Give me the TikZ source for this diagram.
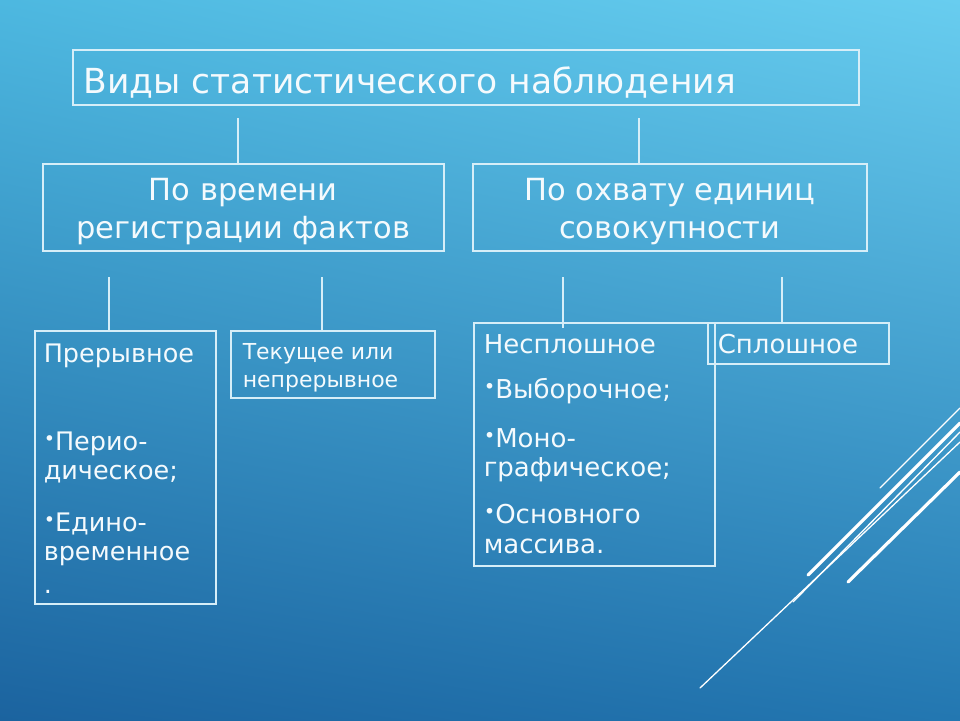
\documentclass[tikz,border=0pt]{standalone}
\usepackage{fontspec}
\setmainfont{DejaVu Sans}
\usetikzlibrary{shadings}
\definecolor{bgtl}{HTML}{4DB8E0}
\definecolor{bgtr}{HTML}{68CDEF}
\definecolor{bgbl}{HTML}{1B639F}
\definecolor{bgbr}{HTML}{2377B1}
\definecolor{edge}{HTML}{D6EEF8}
\definecolor{ink}{HTML}{F4FAFD}
% width, height, first baseline, left pad, text
\newcommand{\cellbox}[5]{\parbox[t][#2][t]{#1}{\leftskip=#4\rule{0pt}{#3}#5\par}}
\newcommand{\bul}{\raisebox{.22em}{\scalebox{.75}{•}}}
\begin{document}
\begin{tikzpicture}[x=1pt,y=-1pt,
    box/.style={draw=edge,line width=1.5pt,inner sep=0pt,anchor=north west,text=ink},
    link/.style={draw=edge,line width=1.5pt},
    deco/.style={draw=white,line cap=round}]
\useasboundingbox (0,0) rectangle (960,720);
\shade[upper left=bgtl,upper right=bgtr,lower left=bgbl,lower right=bgbr] (0,0) rectangle (960,720);

\node[box] (kind) at (72,49) {\fontsize{34.5}{40}\selectfont\cellbox{786pt}{55pt}{44pt}{11pt}{Виды статистического наблюдения}};
\node[box] (time) at (42,163) {\fontsize{30.5}{38}\selectfont\cellbox{401pt}{87pt}{37pt}{0pt}{\centering По времени\\регистрации фактов}};
\node[box] (cover) at (472,163) {\fontsize{30.5}{38}\selectfont\cellbox{394pt}{87pt}{37pt}{0pt}{\centering По охвату единиц\\совокупности}};
\node[box] (break) at (34,330) {\fontsize{25.5}{29}\selectfont\cellbox{181pt}{273pt}{32pt}{9pt}{Прерывное\\[59pt]\bul Перио-\\дическое;\\[23pt]\bul Едино-\\временное\\[4pt].}};
\node[box] (cur) at (230,330) {\fontsize{22}{28}\selectfont\cellbox{204pt}{67pt}{29pt}{12pt}{Текущее или\\непрерывное}};
\node[box] (part) at (473,322) {\fontsize{26}{29}\selectfont\cellbox{241pt}{243pt}{31pt}{10pt}{Несплошное\\[16pt]\bul Выборочное;\\[20pt]\bul Моно-\\графическое;\\[18pt]\bul Основного\\[1pt]массива.}};
\node[box] (full) at (707,322) {\fontsize{26}{29}\selectfont\cellbox{181pt}{41pt}{31pt}{10pt}{Сплошное}};

\coordinate (k1) at (238,118);
\coordinate (k2) at (639,118);
\draw[link] (k1) -- (k1 |- time.north);
\draw[link] (k2) -- (k2 |- cover.north);
\coordinate (t1) at (109,277);
\coordinate (t2) at (322,277);
\draw[link] (t1) -- (t1 |- break.north);
\draw[link] (t2) -- (t2 |- cur.north);
\coordinate (c1) at (563,277);
\coordinate (c2) at (782,277);
\draw[link] (c1) -- ([yshift=-6pt]c1 |- part.north);
\draw[link] (c2) -- (c2 |- full.north);

% corner strokes
\draw[deco,line width=1.3pt] (880,488) -- (960,408);
\draw[deco,line width=3.2pt] (808,575) -- (960,423);
\draw[deco,line width=1.3pt] (793,602) -- (960,432);
\draw[deco,line width=1.3pt] (700,688) -- (960,442);
\draw[deco,line width=3.2pt] (848,582) -- (960,472);
\end{tikzpicture}
\end{document}
